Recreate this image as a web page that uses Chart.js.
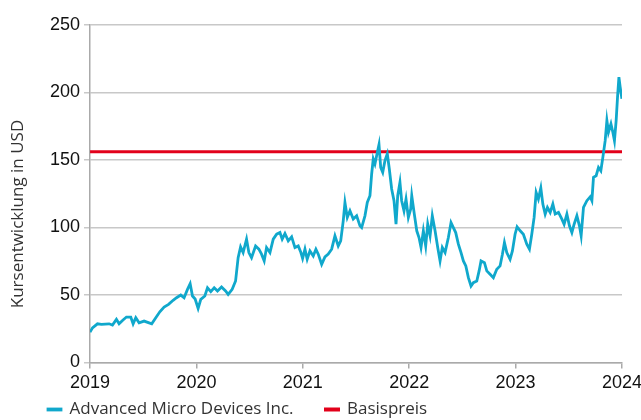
<!DOCTYPE html>
<html>
  <head>
    <script src="https://cdn.jsdelivr.net/npm/chart.js@4/dist/chart.umd.min.js"></script>
    <style>
      body { margin: 0; background: #fff; }
    </style>
  </head>

  <body>
    <canvas id="canvas" width="641" height="420"></canvas>
    <script>
      // Kursverlauf AMD, als Dezimaljahr + Schlusskurs in USD
      const years = [
        2019.000, 2019.023, 2019.070, 2019.107, 2019.179, 2019.211, 2019.248, 2019.273, 2019.305, 2019.342,
        2019.383, 2019.405, 2019.430, 2019.461, 2019.508, 2019.555, 2019.580, 2019.618, 2019.656, 2019.696,
        2019.738, 2019.781, 2019.813, 2019.853, 2019.884, 2019.916, 2019.941, 2019.963, 2019.988, 2020.016,
        2020.041, 2020.079, 2020.104, 2020.135, 2020.167, 2020.198, 2020.236, 2020.274, 2020.298, 2020.336,
        2020.368, 2020.392, 2020.415, 2020.439, 2020.471, 2020.493, 2020.518, 2020.556, 2020.587, 2020.612,
        2020.637, 2020.659, 2020.691, 2020.722, 2020.754, 2020.785, 2020.806, 2020.832, 2020.863, 2020.895,
        2020.926, 2020.957, 2020.982, 2020.998, 2021.020, 2021.041, 2021.067, 2021.098, 2021.123, 2021.145,
        2021.177, 2021.208, 2021.239, 2021.271, 2021.302, 2021.333, 2021.356, 2021.380, 2021.396, 2021.418,
        2021.443, 2021.474, 2021.506, 2021.537, 2021.553, 2021.584, 2021.606, 2021.631, 2021.647, 2021.662,
        2021.678, 2021.700, 2021.716, 2021.732, 2021.751, 2021.772, 2021.794, 2021.813, 2021.835, 2021.857,
        2021.876, 2021.892, 2021.913, 2021.929, 2021.951, 2021.970, 2021.992, 2022.014, 2022.024, 2022.048,
        2022.071, 2022.092, 2022.111, 2022.133, 2022.155, 2022.174, 2022.196, 2022.217, 2022.243, 2022.268,
        2022.290, 2022.311, 2022.337, 2022.368, 2022.393, 2022.415, 2022.437, 2022.462, 2022.487, 2022.509,
        2022.532, 2022.556, 2022.581, 2022.603, 2022.635, 2022.657, 2022.675, 2022.707, 2022.729, 2022.760,
        2022.791, 2022.823, 2022.854, 2022.876, 2022.895, 2022.917, 2022.948, 2022.970, 2022.995, 2023.014,
        2023.043, 2023.073, 2023.105, 2023.130, 2023.152, 2023.174, 2023.193, 2023.214, 2023.237, 2023.256,
        2023.278, 2023.299, 2023.325, 2023.350, 2023.372, 2023.403, 2023.435, 2023.456, 2023.482, 2023.506,
        2023.529, 2023.550, 2023.576, 2023.600, 2023.616, 2023.638, 2023.670, 2023.701, 2023.717, 2023.732,
        2023.757, 2023.779, 2023.801, 2023.820, 2023.842, 2023.858, 2023.873, 2023.896, 2023.914, 2023.929,
        2023.945, 2023.958, 2023.971, 2023.983, 2023.999
      ];
      const prices = [
        22.4, 25.6, 28.6, 28.2, 28.6, 27.6, 31.9, 28.6, 31.1, 33.6,
        33.6, 28.6, 33.1, 29.3, 30.6, 29.3, 28.6, 33.1, 37.5, 41.0,
        43.0, 46.0, 47.9, 49.9, 47.9, 54.1, 58.3, 49.2, 47.0, 40.0,
        46.7, 49.2, 55.3, 52.4, 55.3, 52.9, 55.9, 52.9, 50.4, 54.2,
        60.3, 77.6, 85.6, 81.4, 91.3, 81.4, 77.6, 86.3, 83.9, 80.2,
        75.2, 85.1, 81.4, 91.3, 95.0, 96.2, 91.3, 95.5, 90.0, 93.0,
        85.1, 86.3, 81.4, 77.0, 83.9, 76.4, 82.6, 78.9, 83.9, 80.2,
        72.7, 78.2, 80.2, 83.9, 93.8, 86.3, 90.0, 104.9, 118.5, 107.4,
        112.3, 106.2, 108.6, 101.2, 99.9, 108.6, 118.5, 123.5, 139.6, 150.7,
        147.0, 155.6, 161.4, 144.5, 140.8, 149.5, 154.5, 143.3, 128.5, 119.8,
        102.4, 123.5, 133.4, 119.8, 112.3, 121.0, 107.4, 113.6, 123.5, 109.9,
        97.5, 92.5, 85.1, 97.5, 86.3, 102.4, 93.8, 108.6, 97.5, 85.1,
        75.2, 85.1, 81.4, 92.5, 103.6, 99.9, 96.2, 87.6, 81.4, 75.2,
        71.5, 62.8, 56.6, 59.1, 60.3, 67.8, 75.2, 73.9, 67.8, 65.3,
        62.8, 69.0, 71.5, 80.2, 88.8, 81.4, 76.4, 82.6, 95.0, 100.5,
        97.5, 95.0, 87.6, 83.9, 95.0, 107.4, 125.9, 121.0, 129.2, 117.3,
        109.9, 114.8, 111.1, 117.3, 109.9, 111.1, 106.2, 102.4, 109.9, 101.2,
        96.2, 102.4, 108.6, 101.2, 93.8, 114.8, 119.8, 122.7, 119.8, 137.1,
        138.3, 144.5, 142.0, 151.9, 164.3, 179.2, 170.5, 176.7, 170.5, 164.3,
        179.2, 196.5, 211.4, 203.9, 195.3
      ];
      const basispreis = 156;
      const xStart = 2019;
      const xEnd = 2024;
      const yTitle = 'Kursentwicklung in USD';

      const tickFont = { family: '"Liberation Sans", Arial, sans-serif', size: 18 };
      const textFont = { family: '"Open Sans", "Noto Sans", sans-serif', size: 17 };

      // Legende links ausrichten wie im Original
      const legendShift = {
        id: 'legendShift',
        afterLayout(chart) {
          const lg = chart.legend;
          lg.left = 16;
          lg.top = 369;
        },
      };

      // Achsentitel sitzt im Original etwas tiefer als die Mitte der Achse
      const yTitlePlugin = {
        id: 'yTitle',
        afterDraw(chart) {
          const ctx = chart.ctx;
          ctx.save();
          ctx.translate(18, 214);
          ctx.rotate(-Math.PI / 2);
          ctx.font = '17px "Open Sans", "Noto Sans", sans-serif';
          ctx.fillStyle = '#333';
          ctx.textAlign = 'center';
          ctx.textBaseline = 'middle';
          ctx.fillText(yTitle, 0, 0);
          ctx.restore();
        },
      };

      const chart = new Chart(document.getElementById('canvas').getContext('2d'), {
        type: 'line',
        data: {
          datasets: [
            {
              label: 'Advanced Micro Devices Inc.',
              data: years.map((t, i) => ({ x: t, y: prices[i] })),
              borderColor: '#10a8cc',
              backgroundColor: '#10a8cc',
              borderWidth: 2.8,
              pointRadius: 0,
              tension: 0,
            },
            {
              label: 'Basispreis',
              data: [
                { x: xStart, y: basispreis },
                { x: xEnd, y: basispreis },
              ],
              borderColor: '#e2001a',
              backgroundColor: '#e2001a',
              borderWidth: 3,
              pointRadius: 0,
            },
          ],
        },
        options: {
          responsive: false,
          animation: false,
          layout: {
            padding: { top: 25, right: 19, left: 46, bottom: 0 },
          },
          plugins: {
            tooltip: { enabled: false },
            legend: {
              position: 'bottom',
              align: 'start',
              maxHeight: 22,
              labels: {
                boxWidth: 13,
                boxHeight: 1,
                padding: 32,
                color: '#333',
                font: textFont,
              },
            },
          },
          scales: {
            x: {
              type: 'linear',
              min: xStart,
              max: xEnd,
              border: { color: '#aaa', width: 1.5 },
              grid: { drawOnChartArea: false, tickLength: 6, color: '#aaa', lineWidth: 1.5 },
              ticks: {
                stepSize: 1,
                padding: 4,
                color: '#111',
                font: tickFont,
                maxRotation: 0,
                callback: (v) => String(v),
              },
              afterFit: (scale) => {
                scale.paddingRight = 0;
              },
            },
            y: {
              min: 0,
              max: 250,
              border: { color: '#aaa', width: 1.5 },
              grid: { color: '#c8c8c8', lineWidth: 1.5, tickLength: 6 },
              ticks: { stepSize: 50, padding: 4, color: '#111', font: tickFont },
            },
          },
        },
        plugins: [legendShift, yTitlePlugin],
      });
    </script>
  </body>
</html>
